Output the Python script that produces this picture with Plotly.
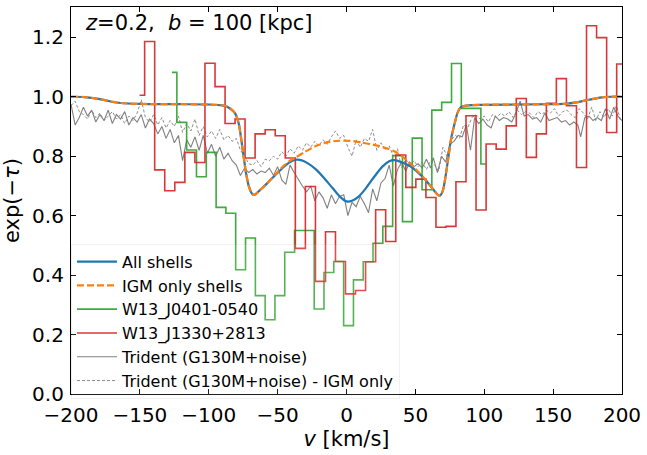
import plotly.graph_objects as go

# ---------------- data ----------------
# smooth model curves (velocity km/s, transmission)
all_v = [-200, -190, -180, -172, -164, -150, -120, -100, -90, -86, -83, -81, -79.5, -78, -76.5, -75, -73,
         -71, -69, -67.5, -66, -63, -58, -52, -46, -41, -37, -33, -28, -22, -16, -10, -5, 0, 4, 9, 14, 20,
         26, 31, 35, 40, 46, 52, 57, 61, 64, 66.5, 68, 70, 71.5, 73.6, 76, 78.4, 80.5, 83, 88, 100, 150,
         160, 168, 176, 184, 192, 200]
all_y = [1.0, 0.999, 0.993, 0.985, 0.979, 0.976, 0.975, 0.974, 0.971, 0.965, 0.955, 0.945, 0.93, 0.905, 0.86,
         0.81, 0.745, 0.70, 0.677, 0.67, 0.672, 0.685, 0.707, 0.735, 0.762, 0.78, 0.788, 0.787, 0.776, 0.755,
         0.725, 0.692, 0.665, 0.648, 0.65, 0.665, 0.692, 0.73, 0.765, 0.783, 0.787, 0.78, 0.767, 0.745, 0.722,
         0.70, 0.682, 0.669, 0.668, 0.685, 0.72, 0.785, 0.86, 0.908, 0.945, 0.965, 0.971, 0.973, 0.975,
         0.977, 0.982, 0.99, 0.997, 1.0, 1.0]

igm_v = [-200, -190, -180, -172, -164, -150, -120, -100, -90, -86, -83, -81, -79.5, -78, -76.5, -75, -73,
         -71, -69, -67.5, -66, -63, -58, -52, -46, -41, -37, -30, -22, -13, -5, 0, 5, 11, 17, 23, 29, 35,
         41, 47, 52, 57, 61, 64, 66.5, 68, 70, 71.5, 73.6, 76, 78.4, 80.5, 83, 88, 100, 150, 160, 168, 176,
         184, 192, 200]
igm_y = [1.0, 0.999, 0.993, 0.985, 0.979, 0.976, 0.975, 0.974, 0.971, 0.965, 0.955, 0.945, 0.93, 0.905, 0.86,
         0.81, 0.745, 0.70, 0.677, 0.67, 0.672, 0.685, 0.707, 0.737, 0.766, 0.785, 0.796, 0.815, 0.835, 0.848,
         0.852, 0.852, 0.851, 0.846, 0.841, 0.835, 0.827, 0.816, 0.797, 0.772, 0.748, 0.723, 0.70, 0.682,
         0.669, 0.668, 0.685, 0.72, 0.785, 0.86, 0.908, 0.945, 0.965, 0.971, 0.973, 0.975, 0.977, 0.982,
         0.99, 0.997, 1.0, 1.0]

# observed spectra (bin centres, transmission)
j0401_v = [-126.7, -119.6, -112.5, -105.3, -98.2, -91.1, -84.0, -76.9, -69.7, -62.6, -55.5, -48.4, -41.3,
           -34.1, -27.0, -19.9, -12.8, -5.7, 1.5, 8.6, 15.7, 22.8, 29.9, 37.1, 44.2, 51.3, 58.4, 65.5, 72.7,
           79.8, 86.9, 94.0, 101.1]
j0401_y = [1.082, 0.914, 0.821, 0.731, 0.813, 0.628, 0.608, 0.418, 0.525, 0.331, 0.25, 0.331, 0.477, 0.55,
           0.55, 0.286, 0.409, 0.446, 0.23, 0.384, 0.445, 0.507, 0.564, 0.802, 0.58, 0.861, 0.687, 0.955,
           0.981, 1.112, 0.961, 0.961, 0.774]

j1330_v = [-150.2, -142.9, -135.6, -128.3, -121.0, -113.7, -106.4, -99.1, -91.8, -84.5, -77.3, -70.0, -62.7,
           -55.4, -48.1, -40.8, -33.5, -26.2, -18.9, -11.6, -4.4, 2.9, 10.2, 17.5, 24.8, 32.1, 39.4, 46.7,
           54.0, 61.3, 68.6, 75.8, 83.1, 90.4, 97.7, 105.0, 112.3, 119.6, 126.9, 134.2, 141.5, 148.7,
           156.0, 163.3, 170.6, 177.9, 185.2, 192.5, 199.8, 207.1]
j1330_y = [1.005, 1.186, 0.754, 0.684, 0.712, 0.813, 0.779, 1.113, 1.034, 0.910, 0.925, 0.794, 0.875, 0.889,
           0.869, 0.794, 0.49, 0.698, 0.379, 0.546, 0.446, 0.337, 0.348, 0.445, 0.62, 0.513, 0.804, 0.695,
           0.723, 0.661, 0.561, 0.564, 0.714, 0.936, 0.619, 0.841, 0.824, 0.902, 0.994, 0.796, 0.875, 0.978,
           1.061, 0.97, 0.762, 1.239, 1.199, 0.880, 1.110, 1.110]

# Trident synthetic spectra
tri_v = [-200, -197, -194, -191, -188, -185, -182, -179, -176, -173, -170, -167, -164, -161, -158, -155,
         -152, -149, -146, -143, -140, -137, -134, -131, -128, -125, -122, -119, -116, -113, -110, -107,
         -104, -101, -98, -95, -92, -89, -86, -83, -80, -77, -74, -71, -68, -65, -62, -59, -56, -53, -50,
         -47, -44, -41, -38, -35, -32, -29, -26, -23, -20, -17, -14, -11, -8, -5, -2, 1, 4, 7, 10, 13, 16,
         19, 22, 25, 28, 31, 34, 37, 40, 43, 46, 49, 52, 55, 58, 61, 63, 66, 69, 72, 75, 78, 81, 84, 87, 90,
         93, 96, 99, 102, 105, 108, 111, 114, 117, 120, 123, 126, 129, 132, 135, 138, 141, 144, 147, 150,
         153, 156, 159, 162, 165, 168, 170, 173, 176, 179, 182, 185, 188, 191, 194, 197, 200]
tri_y = [0.975, 0.905, 0.93, 0.965, 0.935, 0.955, 0.915, 0.94, 0.92, 0.955, 0.91, 0.94, 0.925, 0.95, 0.905,
         0.93, 0.915, 0.94, 0.895, 0.925, 0.91, 0.875, 0.9, 0.86, 0.89, 0.845, 0.87, 0.785, 0.855, 0.83,
         0.865, 0.82, 0.87, 0.81, 0.84, 0.8, 0.83, 0.79, 0.81, 0.785, 0.77, 0.735, 0.76, 0.745, 0.755, 0.74,
         0.75, 0.745, 0.76, 0.735, 0.765, 0.72, 0.705, 0.77, 0.745, 0.72, 0.70, 0.68, 0.70, 0.65, 0.68, 0.66,
         0.625, 0.67, 0.64, 0.665, 0.67, 0.60, 0.645, 0.63, 0.665, 0.64, 0.61, 0.69, 0.65, 0.71, 0.725, 0.77,
         0.70, 0.755, 0.78, 0.75, 0.78, 0.765, 0.775, 0.76, 0.79, 0.76, 0.795, 0.745, 0.80, 0.78, 0.84,
         0.85, 0.87, 0.865, 0.905, 0.82, 0.93, 0.91, 0.925, 0.905, 0.895, 0.935, 0.92, 0.93, 0.925, 0.915,
         0.945, 0.985, 0.935, 0.94, 0.925, 0.93, 0.915, 0.945, 0.92, 0.925, 0.93, 0.915, 0.92, 0.905, 0.915,
         0.905, 0.865, 0.93, 0.935, 0.92, 0.93, 0.92, 0.96, 0.925, 0.965, 0.935, 0.92]

tri_igm_v = [-200, -197, -194, -191, -188, -185, -182, -179, -176, -173, -170, -167, -164, -161, -158, -155,
             -152, -149, -146, -143, -140, -137, -134, -131, -128, -125, -122, -119, -116, -113, -110, -107,
             -104, -101, -98, -95, -92, -89, -86, -83, -80, -77, -74, -71, -68, -65, -62, -59, -56, -53, -50,
             -47, -44, -41, -38, -35, -32, -29, -26, -23, -20, -17, -14, -11, -8, -5, -2, 1, 4, 7, 10, 13,
             16, 19, 22, 25, 28, 31, 34, 37, 40, 43, 46, 49, 52, 55, 58, 61, 64, 67, 70, 73, 76, 79, 82, 85,
             88, 91, 94, 97, 100, 103, 106, 109, 112, 115, 118, 121, 124, 127, 130, 133, 136, 139, 142, 145,
             148, 151, 154, 157, 160, 163, 166, 169, 172, 175, 178, 181, 184, 187, 190, 193, 196, 199]
tri_igm_y = [0.97, 0.985, 0.95, 0.94, 0.925, 0.955, 0.93, 0.945, 0.92, 0.935, 0.95, 0.925, 0.94, 0.91, 0.935,
             0.92, 0.945, 0.99, 0.93, 0.915, 0.94, 0.905, 0.93, 0.895, 0.92, 0.9, 0.935, 0.88, 0.91, 0.885,
             0.925, 0.87, 0.9, 0.865, 0.885, 0.86, 0.89, 0.855, 0.87, 0.85, 0.86, 0.82, 0.80, 0.775, 0.77,
             0.785, 0.765, 0.79, 0.785, 0.80, 0.79, 0.815, 0.80, 0.825, 0.81, 0.835, 0.82, 0.845, 0.83, 0.85,
             0.835, 0.855, 0.84, 0.865, 0.885, 0.86, 0.87, 0.83, 0.80, 0.855, 0.83, 0.86, 0.85, 0.89, 0.82,
             0.845, 0.82, 0.835, 0.80, 0.825, 0.76, 0.79, 0.77, 0.785, 0.765, 0.78, 0.755, 0.785, 0.77, 0.75,
             0.83, 0.80, 0.855, 0.87, 0.86, 0.905, 0.895, 0.93, 0.94, 0.925, 0.935, 0.915, 0.94, 0.93, 0.945,
             0.935, 0.95, 0.93, 0.955, 0.94, 0.95, 0.945, 0.93, 0.95, 0.94, 0.955, 0.945, 0.96, 0.935, 0.95,
             0.955, 0.94, 0.93, 0.96, 0.945, 0.925, 0.965, 0.92, 0.95, 0.93, 0.96, 0.935, 0.97, 0.92]

x_ticks = [-200, -150, -100, -50, 0, 50, 100, 150, 200]
y_ticks = [0.0, 0.2, 0.4, 0.6, 0.8, 1.0, 1.2]

# ---------------- figure ----------------
FONT = "DejaVu Sans"
fig = go.Figure()

fig.add_trace(go.Scatter(x=tri_igm_v, y=tri_igm_y, mode="lines", name="Trident (G130M+noise) - IGM only",
                         line=dict(color="#808080", width=0.9, dash="3px,2px"), legendrank=6))
fig.add_trace(go.Scatter(x=tri_v, y=tri_y, mode="lines", name="Trident (G130M+noise)",
                         line=dict(color="#808080", width=1.1), legendrank=5))
fig.add_trace(go.Scatter(x=j0401_v, y=j0401_y, mode="lines", name="W13_J0401-0540",
                         line=dict(color="#2ca02c", width=1.6, shape="hvh"), opacity=0.9, legendrank=3))
fig.add_trace(go.Scatter(x=j1330_v, y=j1330_y, mode="lines", name="W13_J1330+2813",
                         line=dict(color="#d62728", width=1.6, shape="hvh"), opacity=0.92, legendrank=4))
fig.add_trace(go.Scatter(x=all_v, y=all_y, mode="lines", name="All shells",
                         line=dict(color="#1f77b4", width=2.2, shape="spline", smoothing=0.7), legendrank=1))
fig.add_trace(go.Scatter(x=igm_v, y=igm_y, mode="lines", name="IGM only shells",
                         line=dict(color="#ff7f0e", width=2.2, dash="7px,3px", shape="spline", smoothing=0.7),
                         legendrank=2))

axis_common = dict(ticks="inside", ticklen=5, tickwidth=1, tickcolor="black", showline=True,
                   linecolor="black", linewidth=1.2, mirror="allticks", showgrid=False, zeroline=False,
                   tickfont=dict(family=FONT, size=20, color="black"))

fig.update_xaxes(range=[-200, 200], tickvals=x_ticks, ticktext=[str(t).replace("-", "\u2212") for t in x_ticks],
                 ticklabelstandoff=3,
                 title=dict(text="<i>v</i> [km/s]", font=dict(family=FONT, size=21, color="black"), standoff=3),
                 **axis_common)
fig.update_yaxes(range=[0, 1.302], tickvals=y_ticks, ticktext=[f"{t:.1f}" for t in y_ticks],
                 ticklabelstandoff=2,
                 title=dict(text="exp(\u2212<i>\u03c4</i>)", font=dict(family=FONT, size=21, color="black"),
                            standoff=6),
                 **axis_common)

fig.add_annotation(x=0.022, y=0.958, xref="paper", yref="paper", xanchor="left", yanchor="middle",
                   text="<i>z</i>=0.2,  <i>b</i> = 100 [kpc]", showarrow=False,
                   font=dict(family=FONT, size=21, color="black"))

fig.update_layout(
    width=647, height=455,
    margin=dict(l=71, r=22, t=6, b=61),
    paper_bgcolor="white", plot_bgcolor="white",
    font=dict(family=FONT, color="black"),
    legend=dict(x=0, y=-0.012, xanchor="left", yanchor="bottom", bgcolor="rgba(255,255,255,0.12)",
                bordercolor="rgba(0,0,0,0.05)", borderwidth=1, font=dict(family=FONT, size=16, color="black"),
                itemwidth=40, tracegroupgap=0),
    showlegend=True,
)

fig.write_html("out.html")
